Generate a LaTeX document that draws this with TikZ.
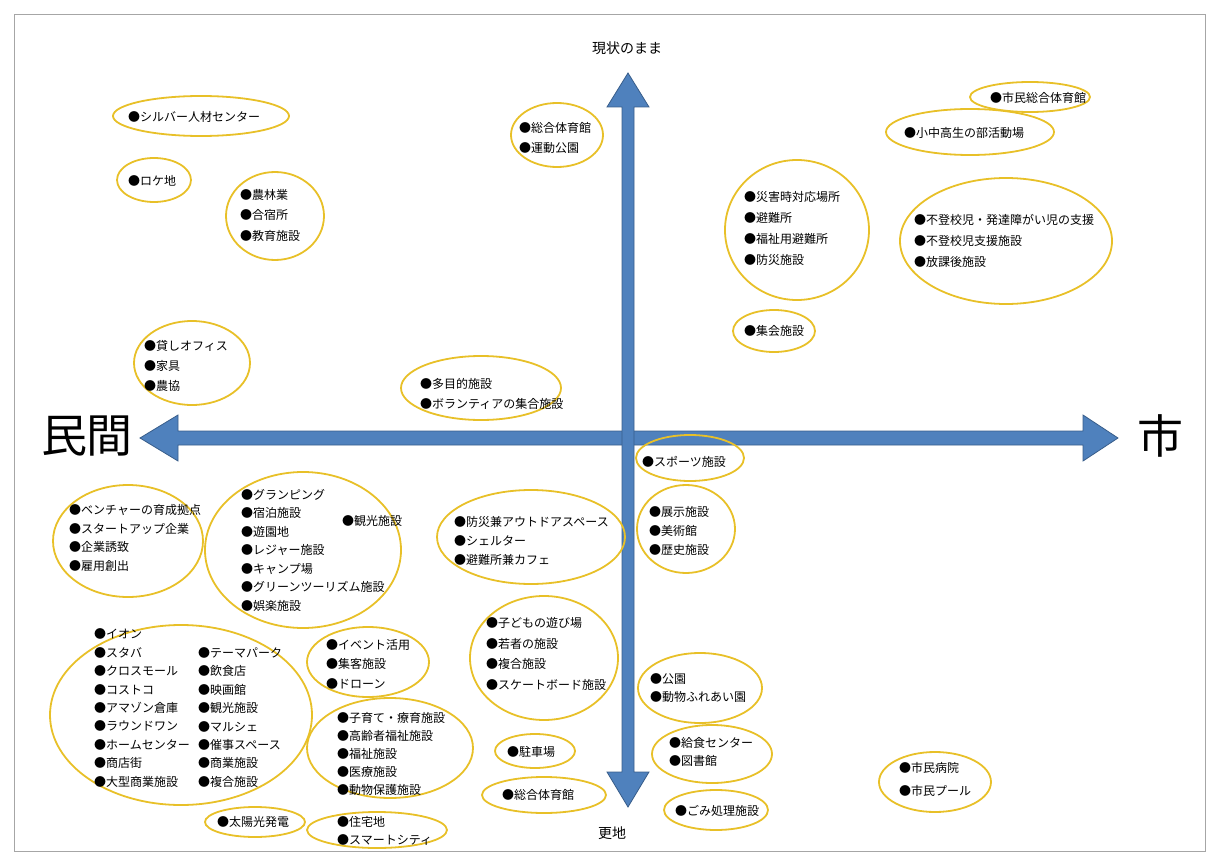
\documentclass[tikz,border=0pt]{standalone}
\usepackage{fontspec}
\newfontfamily\jp{Noto Sans CJK JP}
\usetikzlibrary{shapes.geometric}
\definecolor{gold}{RGB}{232,192,40}
\definecolor{axisblue}{RGB}{79,129,189}
\definecolor{axisedge}{RGB}{56,93,138}
\tikzset{
  grp/.style={ellipse, draw=gold, line width=1.8pt, inner sep=0pt},
  item/.style={anchor=west, align=left, inner sep=0pt, font=\jp\fontsize{12}{#1}\selectfont},
  item/.default=19,
  axisarrow/.style={fill=axisblue, draw=axisedge, line width=0.8pt, line join=miter},
}
\begin{document}
\begin{tikzpicture}[x=1pt,y=-1pt]
\useasboundingbox (0,0) rectangle (1219,864);
\draw[gray!70, line width=0.8pt] (14,14) rectangle (1205,851);

% axes
\draw[axisarrow] (140,438) -- (178,415) -- (178,431) -- (1083,431) -- (1083,415) -- (1118,438)
  -- (1083,461) -- (1083,445) -- (178,445) -- (178,461) -- cycle;
\draw[axisarrow] (628,73) -- (649,107) -- (634,107) -- (634,772) -- (649,772) -- (628,807)
  -- (607,772) -- (622,772) -- (622,107) -- (607,107) -- cycle;

\node[font=\jp\fontsize{14}{16}\selectfont] (top) at (627,48) {現状のまま};
\node[font=\jp\fontsize{14}{16}\selectfont] (bottom) at (612,833) {更地};
\node[font=\jp\fontsize{46}{50}\selectfont] (left) at (87,436) {民間};
\node[font=\jp\fontsize{46}{50}\selectfont] (right) at (1160,436) {市};

% ellipses
\node[grp, minimum width=176, minimum height=40] (e1) at (201,116) {};
\node[grp, minimum width=74, minimum height=44] (e2) at (154,180) {};
\node[grp, minimum width=98, minimum height=88] (e3) at (275,216) {};
\node[grp, minimum width=92, minimum height=64] (e4) at (557,135) {};
\node[grp, minimum width=120, minimum height=30] (e5) at (1030,97) {};
\node[grp, minimum width=168, minimum height=46] (e6) at (970,132) {};
\node[grp, minimum width=144, minimum height=140] (e7) at (797,230) {};
\node[grp, minimum width=212, minimum height=126] (e8) at (1006,241) {};
\node[grp, minimum width=82, minimum height=42] (e9) at (774,331) {};
\node[grp, minimum width=116, minimum height=84] (e10) at (192,363) {};
\node[grp, minimum width=160, minimum height=64] (e11) at (481,388) {};
\node[grp, minimum width=108, minimum height=46] (e12) at (690,458) {};
\node[grp, minimum width=98, minimum height=88] (e13) at (686,529) {};
\node[grp, minimum width=188, minimum height=94] (e14) at (531,537) {};
\node[grp, minimum width=150, minimum height=112] (e15) at (128,541) {};
\node[grp, minimum width=196, minimum height=156] (e16) at (303,550) {};
\node[grp, minimum width=262, minimum height=180] (e17) at (181,715) {};
\node[grp, minimum width=122, minimum height=70] (e18) at (368,662) {};
\node[grp, minimum width=166, minimum height=100] (e19) at (390,748) {};
\node[grp, minimum width=140, minimum height=36] (e20) at (377,830) {};
\node[grp, minimum width=100, minimum height=30] (e21) at (255,822) {};
\node[grp, minimum width=148, minimum height=124] (e22) at (544,658) {};
\node[grp, minimum width=80, minimum height=34] (e23) at (535,751) {};
\node[grp, minimum width=124, minimum height=36] (e24) at (544,795) {};
\node[grp, minimum width=124, minimum height=70] (e25) at (700,688) {};
\node[grp, minimum width=120, minimum height=58] (e26) at (712,754) {};
\node[grp, minimum width=104, minimum height=40] (e27) at (716,810) {};
\node[grp, minimum width=112, minimum height=60] (e28) at (935,782) {};

% texts
\node[item] (t1) at (128,117) {●シルバー人材センター};
\node[item] (t2) at (128,181) {●ロケ地};
\node[item=20.5] (t3) at (240,215) {●農林業\\●合宿所\\●教育施設};
\node[item=20] (t4) at (519,138) {●総合体育館\\●運動公園};
\node[item] (t5) at (990,98) {●市民総合体育館};
\node[item] (t6) at (904,133) {●小中高生の部活動場};
\node[item=21] (t7) at (744,228) {●災害時対応場所\\●避難所\\●福祉用避難所\\●防災施設};
\node[item=21] (t8) at (914,241) {●不登校児・発達障がい児の支援\\●不登校児支援施設\\●放課後施設};
\node[item] (t9) at (744,331) {●集会施設};
\node[item=20] (t10) at (144,366) {●貸しオフィス\\●家具\\●農協};
\node[item=20] (t11) at (420,394) {●多目的施設\\●ボランティアの集合施設};
\node[item] (t12) at (642,462) {●スポーツ施設};
\node[item=19] (t13) at (649,531) {●展示施設\\●美術館\\●歴史施設};
\node[item=19] (t14) at (454,541) {●防災兼アウトドアスペース\\●シェルター\\●避難所兼カフェ};
\node[item=18.7] (t15) at (69,538) {●ベンチャーの育成拠点\\●スタートアップ企業\\●企業誘致\\●雇用創出};
\node[item=18.5] (t16) at (241,550) {●グランピング\\●宿泊施設\\●遊園地\\●レジャー施設\\●キャンプ場\\●グリーンツーリズム施設\\●娯楽施設};
\node[item] (t16b) at (342,521) {●観光施設};
\node[item=18.5] (t17a) at (94,708) {●イオン\\●スタバ\\●クロスモール\\●コストコ\\●アマゾン倉庫\\●ラウンドワン\\●ホームセンター\\●商店街\\●大型商業施設};
\node[item=18.4] (t17b) at (198,717.5) {●テーマパーク\\●飲食店\\●映画館\\●観光施設\\●マルシェ\\●催事スペース\\●商業施設\\●複合施設};
\node[item=19.5] (t18) at (326,664) {●イベント活用\\●集客施設\\●ドローン};
\node[item=18] (t19) at (337,754) {●子育て・療育施設\\●高齢者福祉施設\\●福祉施設\\●医療施設\\●動物保護施設};
\node[item=18] (t20) at (337,831) {●住宅地\\●スマートシティ};
\node[item] (t21) at (217,822) {●太陽光発電};
\node[item=20.7] (t22) at (486,654) {●子どもの遊び場\\●若者の施設\\●複合施設\\●スケートボード施設};
\node[item] (t23) at (507,752) {●駐車場};
\node[item] (t24) at (502,795) {●総合体育館};
\node[item=18] (t25) at (650,688) {●公園\\●動物ふれあい園};
\node[item=18] (t26) at (669,752) {●給食センター\\●図書館};
\node[item] (t27) at (675,811) {●ごみ処理施設};
\node[item=23] (t28) at (899,779) {●市民病院\\●市民プール};
\end{tikzpicture}
\end{document}
